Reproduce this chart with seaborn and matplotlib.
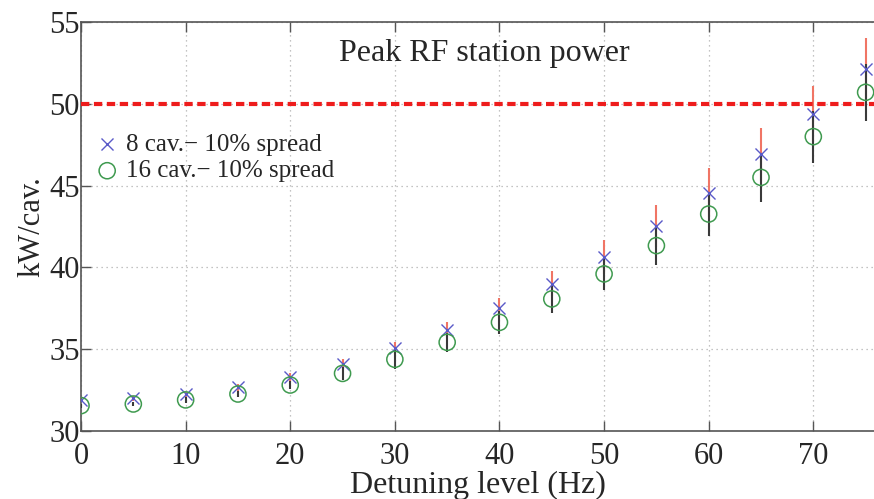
import numpy as np
import pandas as pd
import matplotlib
matplotlib.use("Agg")
import matplotlib.pyplot as plt
import seaborn as sns

# Data
detuning = [0, 5, 10, 15, 20, 25, 30, 35, 40, 45, 50, 55, 60, 65, 70, 75]
power_8cav = [31.9, 32.0, 32.24, 32.67, 33.32, 34.1, 35.05, 36.2, 37.5, 39.0, 40.65, 42.53, 44.57, 46.9, 49.37, 52.1]
err_8cav = [0.12, 0.14, 0.17, 0.2, 0.25, 0.33, 0.36, 0.48, 0.6, 0.77, 1.05, 1.27, 1.48, 1.63, 1.73, 1.9]
power_16cav = [31.55, 31.65, 31.9, 32.26, 32.81, 33.52, 34.38, 35.42, 36.64, 38.07, 39.6, 41.33, 43.26, 45.5, 47.99, 50.7]
err_16cav = [0.12, 0.14, 0.17, 0.2, 0.25, 0.42, 0.58, 0.57, 0.71, 0.87, 0.98, 1.18, 1.36, 1.5, 1.59, 1.73]
limit_level = 50
label_8 = "8 cav.\u2212 10% spread"
label_16 = "16 cav.\u2212 10% spread"
title_text = "Peak RF station power"
xlabel_text = "Detuning level (Hz)"
ylabel_text = "kW/cav."
xticks = [0, 10, 20, 30, 40, 50, 60, 70]
yticks = [30, 35, 40, 45, 50, 55]

df8 = pd.DataFrame({"x": detuning, "y": power_8cav, "e": err_8cav})
df16 = pd.DataFrame({"x": detuning, "y": power_16cav, "e": err_16cav})

sns.set_theme(style="white")
plt.rcParams["font.family"] = ["Liberation Serif", "DejaVu Serif"]

fig = plt.figure(figsize=(8.74, 4.99), dpi=100)
ax = fig.add_axes([0.0927, 0.1363, 0.9073, 0.8197])

# error bars
ax.errorbar(df8["x"], df8["y"], yerr=df8["e"], fmt="none", ecolor="#f07565",
            elinewidth=1.5, capsize=0, zorder=2)
ax.errorbar(df16["x"], df16["y"], yerr=df16["e"], fmt="none", ecolor="#3a3a3a",
            elinewidth=1.5, capsize=0, zorder=3)

sns.scatterplot(data=df8, x="x", y="y", marker="x", s=75, color="#5a5ac8",
                linewidth=1.0, ax=ax, zorder=4, label=label_8)
sns.scatterplot(data=df16, x="x", y="y", marker="o", s=135, facecolor="none",
                edgecolor="#3f9a4f", linewidth=1.1, ax=ax, zorder=4, label=label_16)

ax.axhline(limit_level, color="#ee1c1c", linewidth=3.0, dashes=(2.0, 1.1), zorder=5)

ax.set_xlim(0, 75.8)
ax.set_ylim(30, 55)
ax.set_xticks(xticks)
ax.set_yticks(yticks)
ax.tick_params(axis="both", direction="in", length=7, width=1, color="#555555",
               labelsize=22, top=True, bottom=True, left=True, right=False)
ax.tick_params(axis="x", pad=8)
ax.tick_params(axis="y", pad=1)
ax.grid(True, color="#b0b0b0", linestyle=(0, (1, 3)), linewidth=0.9)

for side in ["left", "bottom", "top"]:
    ax.spines[side].set_color("#555555")
    ax.spines[side].set_linewidth(1.2)
ax.spines["right"].set_visible(False)

ax.set_xlabel(xlabel_text, fontsize=23, labelpad=0)
ax.set_ylabel(ylabel_text, fontsize=22, labelpad=2)

ax.text(0.508, 0.924, title_text, transform=ax.transAxes, ha="center", va="center",
        fontsize=23)

leg = ax.legend(loc="upper left", bbox_to_anchor=(-0.008, 0.77), frameon=False,
                fontsize=18, handletextpad=0.15, labelspacing=0.15, borderaxespad=0.3,
                handlelength=1.2)

fig.savefig("out.png", dpi=100)
